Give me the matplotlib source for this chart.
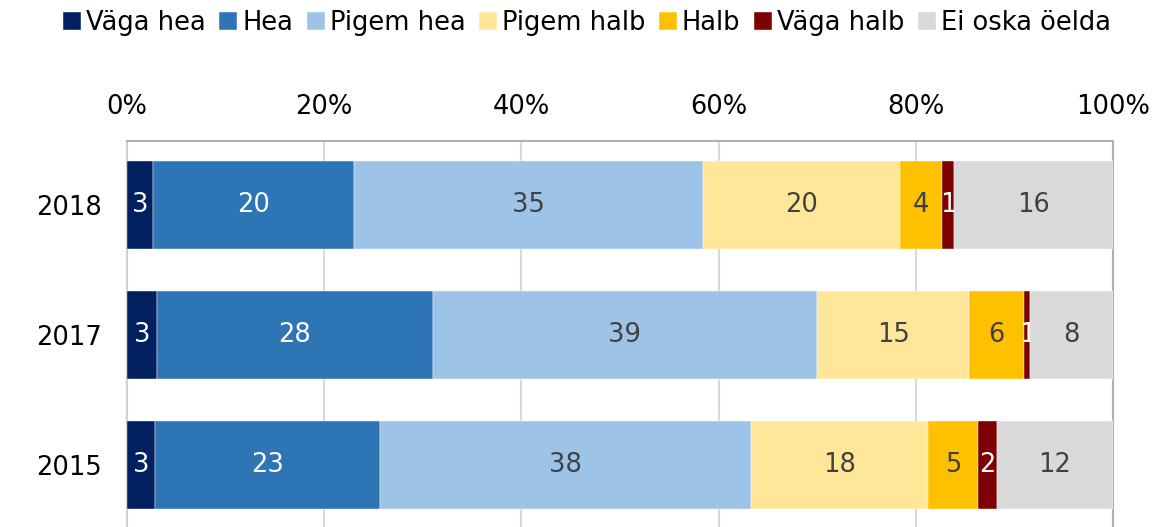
import matplotlib
matplotlib.use("Agg")
import matplotlib.pyplot as plt
import numpy as np

plt.rcParams['font.family'] = ['DejaVu Sans']

years = ["2018", "2017", "2015"]
series = ["Väga hea", "Hea", "Pigem hea", "Pigem halb", "Halb", "Väga halb", "Ei oska öelda"]
vaga_hea = [2.6, 3.0, 2.8]
hea = [20.4, 28.0, 22.9]
pigem_hea = [35.4, 39.0, 37.6]
pigem_halb = [20.0, 15.4, 17.9]
halb = [4.3, 5.6, 5.1]
vaga_halb = [1.2, 0.6, 1.9]
ei_oska = [16.1, 8.4, 11.8]
xticks = [0, 20, 40, 60, 80, 100]
xticklabels = ["0%", "20%", "40%", "60%", "80%", "100%"]

values = [vaga_hea, hea, pigem_hea, pigem_halb, halb, vaga_halb, ei_oska]
colors = ["#002060", "#2E75B6", "#9DC3E6", "#FFE699", "#FFC000", "#7F0000", "#D9D9D9"]
label_colors = ["white", "white", "#404040", "#404040", "#404040", "white", "#404040"]

FS = 18.5
W, H = 1158, 527
fig = plt.figure(figsize=(W / 100, H / 100), dpi=100)
ax = fig.add_axes([127 / W, 1 - 529 / H, (1113 - 127) / W, (529 - 141) / H])

y = np.arange(len(years))
left = np.zeros(len(years))
handles = []
for name, vals, c, lc in zip(series, values, colors, label_colors):
    vals = np.array(vals)
    bars = ax.barh(y, vals, left=left, height=0.677, color=c, label=name,
                   edgecolor='white', linewidth=0.3, zorder=3)
    handles.append(bars)
    ax.bar_label(bars, labels=[f"{v:.0f}" for v in vals], label_type='center',
                 color=lc, fontsize=FS)
    left += vals

ax.set_xlim(0, 100)
ax.set_ylim(len(years) - 1 + 0.492, -0.492)
ax.set_yticks(y)
ax.set_yticklabels(years, fontsize=FS)
ax.set_xticks(xticks)
ax.set_xticklabels(xticklabels, fontsize=FS)
ax.xaxis.tick_top()
ax.tick_params(axis='x', length=0, pad=15)
ax.tick_params(axis='y', length=0, pad=18)
ax.grid(axis='x', color='#D9D9D9', linewidth=1.5, zorder=0)
ax.set_axisbelow(True)
ax.spines['bottom'].set_visible(False)
ax.spines['top'].set_color('#B0B0B0')
ax.spines['top'].set_linewidth(1.5)
ax.spines['left'].set_color('#D0D0D0')
ax.spines['left'].set_linewidth(1.5)
ax.spines['right'].set_color('#B0B0B0')
ax.spines['right'].set_linewidth(1.5)

leg = fig.legend(handles=handles, labels=series, loc='center', ncol=7,
                 bbox_to_anchor=(587 / W, 1 - 23 / H), frameon=False,
                 fontsize=FS, handlelength=0.7, handleheight=0.7,
                 handletextpad=0.2, columnspacing=0.52, borderpad=0)

fig.savefig("out.png", dpi=100)
